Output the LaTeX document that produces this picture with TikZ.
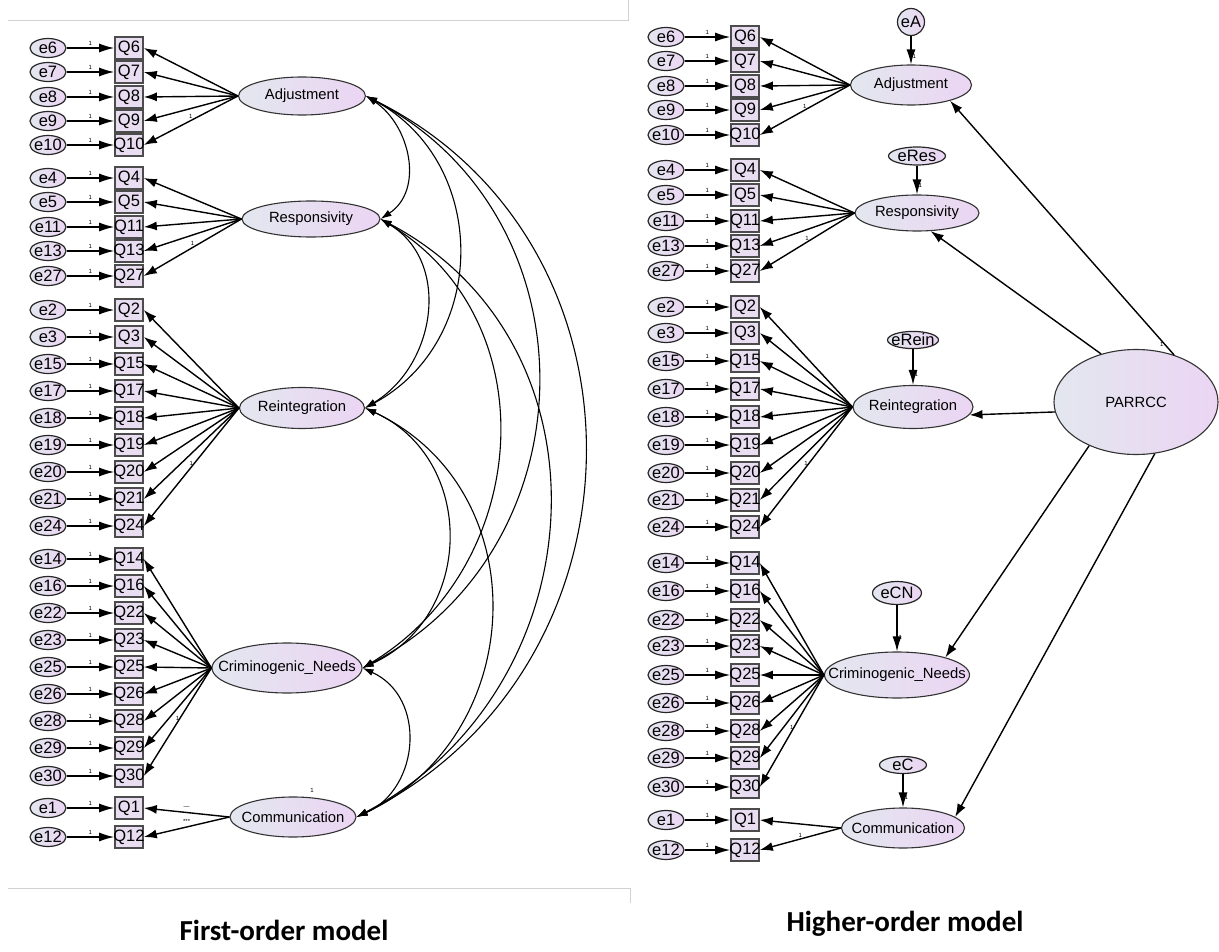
\documentclass[tikz,border=0pt]{standalone}
\usepackage{fontspec}
\setmainfont{Liberation Sans}
\newfontfamily\capfont{Carlito}
\usetikzlibrary{shapes.geometric, arrows.meta}

\definecolor{latL}{HTML}{E3E7EF}
\definecolor{latR}{HTML}{EBD5F3}
\definecolor{obsF}{HTML}{E9DEF1}
\newcommand\ztext[1]{\makebox[0pt]{#1}}

\begin{document}
\begin{tikzpicture}
    [x=1pt, y=-1pt,
     lat/.style={ellipse, draw=black!80, line width=1.1pt, left color=latL, right color=latR,
                 inner sep=0pt, font=\fontsize{14.8}{16}\selectfont},
     err/.style={ellipse, draw=black!85, line width=1.2pt, left color=latL, right color=latR,
                 inner sep=0pt, minimum width=36pt, minimum height=19pt, font=\fontsize{16.5}{17}\selectfont},
     obs/.style={rectangle, draw=black!70, line width=1.6pt, fill=obsF, inner sep=0pt,
                 minimum width=28pt, minimum height=22pt, font=\fontsize{16.5}{17}\selectfont},
     one/.style={font=\fontsize{6}{6}\selectfont, inner sep=1pt},
     arr/.style={->, >={Latex[length=13pt,width=9pt]}, line width=1.4pt},
     earr/.style={->, >={Latex[length=15pt,width=9pt]}, line width=1.4pt},
     cov/.style={<->, >={Latex[length=11pt,width=7pt]}, line width=1.1pt},
     frame/.style={draw=black!18, line width=0.9pt},
     caption/.style={font=\capfont\bfseries\fontsize{29}{32}\selectfont}]

    \useasboundingbox (0,0) rectangle (1219,952);

    \draw[frame] (8,20) -- (628,20) -- (628,0);
    \draw[frame] (8,888) -- (630,888) -- (630,903);

    % first-order model
    \begin{scope}
      \node[lat, minimum width=127pt, minimum height=38pt] (adjL) at (302,96) {\ztext{Adjustment}};
      \node[lat, minimum width=138pt, minimum height=36pt] (resL) at (311,219) {\ztext{Responsivity}};
      \node[lat, minimum width=125pt, minimum height=41pt] (reiL) at (302,408) {\ztext{Reintegration}};
      \node[lat, minimum width=150pt, minimum height=50pt] (crnL) at (287,668) {\ztext{Criminogenic\_Needs}};
      \node[lat, minimum width=126pt, minimum height=40pt] (comL) at (293,817) {\ztext{Communication}};

      \foreach \lat/\last/\rows in {adjL/10/{6/48,7/72,8/97,9/121,10/145},
                                    resL/27/{4/178,5/202,11/227,13/251,27/276},
                                    reiL/24/{2/310,3/337,15/364,17/391,18/418,19/445,20/472,21/499,24/526},
                                    crnL/30/{14/559,16/586,22/613,23/640,25/667,26/694,28/721,29/748,30/776},
                                    comL/0/{1/808,12/837}}
      {
        \foreach \q/\y in \rows
        {
          \node[obs] (qL\q) at (129,\y) {\ztext{Q\q}};
          \node[err] (eL\q) at (48,\y) {\ztext{e\q}};
          \draw[earr] (eL\q) -- node[one, above=1pt] {1} (qL\q);
          \ifnum\q=\last\relax
            \draw[arr] (\lat.west) -- node[one, above=0pt] {1} (qL\q.east);
          \else
            \draw[arr] (\lat.west) -- (qL\q.east);
          \fi
        }
      }
      \path (comL.west) -- node[one, above=3pt] {---} (qL1.east);
      \path (comL.west) -- node[one, above=2pt] {***} (qL12.east);
      \node[one] (comvar) at (312,790) {1};

      \foreach \a/\b/\h/\k in {adjL/resL/44/29, adjL/reiL/124/67, adjL/crnL/231/121, adjL/comL/297/148,
                               resL/reiL/71/43, resL/crnL/169/102, resL/comL/240/127,
                               reiL/crnL/112/51, reiL/comL/173/81, crnL/comL/64/29}
        \draw[cov] (\a.east) .. controls +(\h,\k) and +(\h,-\k) .. (\b.east);
    \end{scope}

    % higher-order model
    \begin{scope}
      \node[lat, minimum width=121pt, minimum height=40pt] (adjR) at (911,85) {\ztext{Adjustment}};
      \node[lat, minimum width=124pt, minimum height=36pt] (resR) at (917,213) {\ztext{Responsivity}};
      \node[lat, minimum width=120pt, minimum height=43pt] (reiR) at (913,407) {\ztext{Reintegration}};
      \node[lat, minimum width=145pt, minimum height=46pt] (crnR) at (897,675) {\ztext{Criminogenic\_Needs}};
      \node[lat, minimum width=123pt, minimum height=40pt] (comR) at (903,828) {\ztext{Communication}};
      \node[lat, minimum width=164pt, minimum height=105pt] (parR) at (1136,402) {\ztext{PARRCC}};

      \node[err, minimum width=27pt, minimum height=27pt] (eA) at (911,22) {\ztext{eA}};
      \node[err, minimum width=57pt, minimum height=18pt] (eRes) at (917,156) {\ztext{eRes}};
      \node[err, minimum width=51pt, minimum height=17pt] (eRein) at (913,340) {\ztext{eRein}};
      \node[err, minimum width=49pt, minimum height=23pt] (eCN) at (897,593) {\ztext{eCN}};
      \node[err, minimum width=47pt, minimum height=17pt] (eC) at (903,765) {\ztext{eC}};

      \foreach \lat/\last/\rows in {adjR/10/{6/37,7/61,8/86,9/110,10/135},
                                    resR/27/{4/170,5/195,11/221,13/246,27/271},
                                    reiR/24/{2/307,3/333,15/361,17/389,18/417,19/445,20/473,21/500,24/527},
                                    crnR/30/{14/563,16/591,22/620,23/646,25/675,26/703,28/731,29/758,30/787},
                                    comR/12/{1/820,12/850}}
      {
        \foreach \q/\y in \rows
        {
          \node[obs] (qR\q) at (745,\y) {\ztext{Q\q}};
          \node[err] (eR\q) at (666,\y) {\ztext{e\q}};
          \draw[earr] (eR\q) -- node[one, above=1pt] {1} (qR\q);
          \ifnum\q=\last\relax
            \draw[arr] (\lat.west) -- node[one, above=0pt] {1} (qR\q.east);
          \else
            \draw[arr] (\lat.west) -- (qR\q.east);
          \fi
        }
      }

      \foreach \d/\f in {eA/adjR, eRes/resR, eRein/reiR, eCN/crnR, eC/comR}
        \draw[earr] (\d) -- node[one, right, pos=0.7] {1} (\f);

      \draw[arr] (parR.51) -- node[one, left, pos=0.04] {1} (adjR.338);
      \draw[arr] (parR.126) -- (resR.307);
      \draw[arr] (parR.187) -- (reiR.352);
      \draw[arr] (parR.223) -- (crnR.20);
      \draw[arr] (parR.290) -- (comR.12);
    \end{scope}

    \node[caption] (capL) at (284,930) {First-order model};
    \node[caption] (capR) at (905,924) {Higher-order model};

\end{tikzpicture}
\end{document}
